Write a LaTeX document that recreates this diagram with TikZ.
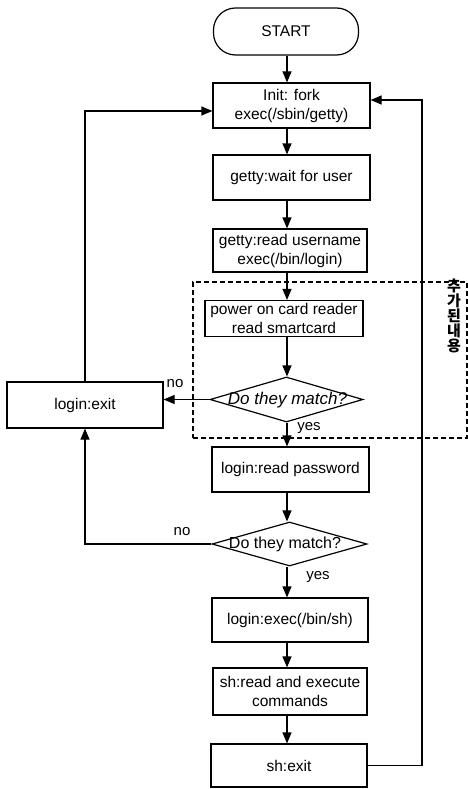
\documentclass[tikz,border=0pt]{standalone}
\usepackage{fontspec}
\setmainfont{Liberation Sans}
\newfontfamily\krfont{Noto Sans CJK KR}
\usetikzlibrary{arrows.meta,calc,shapes.geometric}

\tikzset{
  proc/.style={draw, line width=1.2pt, rectangle, inner sep=0pt, align=center,
    font=\fontsize{15.5}{19}\selectfont},
  term/.style={proc, rounded corners=22pt},
  decide/.style={draw, line width=1.2pt, diamond, inner sep=0pt, fill=white},
  dtext/.style={inner sep=0pt, font=\fontsize{16}{19}\selectfont},
  flow/.style={line width=1.2pt, -{Triangle[length=11pt,width=9pt]}},
  lbl/.style={inner sep=0pt, font=\fontsize{15}{18}\selectfont},
  region/.style={draw, line width=1.1pt, dash pattern=on 5pt off 3pt, inner sep=0pt},
  kr/.style={inner sep=0pt, align=center, font=\krfont\bfseries\fontsize{15}{14.8}\selectfont},
}

\begin{document}
\begin{tikzpicture}[x=1pt,y=-1pt]
\useasboundingbox (0,0) rectangle (468,789);

% dashed frame around the smartcard check
\node[region, minimum width=274pt, minimum height=156pt] (added) at (330,360) {};
\node[kr] (note) at (454,316) {추\\가\\된\\내\\용};

% main column
\node[term, minimum width=145pt, minimum height=47pt] (start) at (286,31.5) {START};
\node[proc, minimum width=157pt, minimum height=45pt] (init) at (291.5,105.5) {Init: fork\\exec(/sbin/getty)};
\node[proc, minimum width=157pt, minimum height=45pt] (wait) at (291.5,177.5) {getty:wait for user};
\node[proc, minimum width=154pt, minimum height=43pt] (uname) at (290,250.5) {getty:read username\\exec(/bin/login)};
\node[proc, minimum width=158pt, minimum height=36pt] (card) at (284,318.5) {power on card reader\\read smartcard};
\node[decide, minimum width=153pt, minimum height=45pt] (m1) at (286.5,399.5) {};
\node[dtext, font=\fontsize{17}{19}\selectfont\itshape] (m1t) at (287.5,400.5) {Do they match?};
\node[proc, minimum width=157pt, minimum height=45pt] (pass) at (290.5,469.5) {login:read password};
\node[decide, minimum width=155pt, minimum height=44pt] (m2) at (289.5,544) {};
\node[dtext] (m2t) at (285,544) {Do they match?};
\node[proc, minimum width=156pt, minimum height=44pt] (exsh) at (290,620) {login:exec(/bin/sh)};
\node[proc, minimum width=154pt, minimum height=47pt] (shrd) at (290,691.5) {sh:read and execute\\commands};
\node[proc, minimum width=156pt, minimum height=43pt] (shex) at (289,765.5) {sh:exit};

% failure box on the left
\node[proc, minimum width=156pt, minimum height=46pt] (lexit) at (85,405) {login:exit};

% branch labels
\node[lbl] (no1) at (175,384) {no};
\node[lbl] (yes1) at (309,428) {yes};
\node[lbl] (no2) at (182,532) {no};
\node[lbl] (yes2) at (318,577) {yes};

% straight-down flow
\coordinate (trunk) at (287,0);
\draw[flow] (start.south -| trunk) -- (init.north -| trunk);
\draw[flow] (init.south -| trunk) -- (wait.north -| trunk);
\draw[flow] (wait.south -| trunk) -- (uname.north -| trunk);
\draw[flow] (uname.south -| trunk) -- (card.north -| trunk);
\draw[flow] (card.south -| trunk) -- (m1.north -| trunk);
\draw[flow] (m1.south -| trunk) -- (pass.north -| trunk);
\draw[flow] (pass.south -| trunk) -- (m2.north -| trunk);
\draw[flow] (m2.south -| trunk) -- (exsh.north -| trunk);
\draw[flow] (exsh.south -| trunk) -- (shrd.north -| trunk);
\draw[flow] (shrd.south -| trunk) -- (shex.north -| trunk);

% failure paths
\coordinate (inL) at ($(init.west)+(0,5.5)$);
\draw[flow] (lexit.north) -- (lexit.north |- inL) -- (inL);
\draw[flow] (m1.west) -- (m1.west -| lexit.east);
\draw[flow] (m2.west) -- (m2.west -| lexit.south) -- (lexit.south);

% return after the shell exits
\coordinate (rx) at (422,0);
\coordinate (inR) at ($(init.east)+(0,-5.5)$);
\draw[flow] (shex.east) -- (shex.east -| rx) -- (inR -| rx) -- (inR);
\end{tikzpicture}
\end{document}
